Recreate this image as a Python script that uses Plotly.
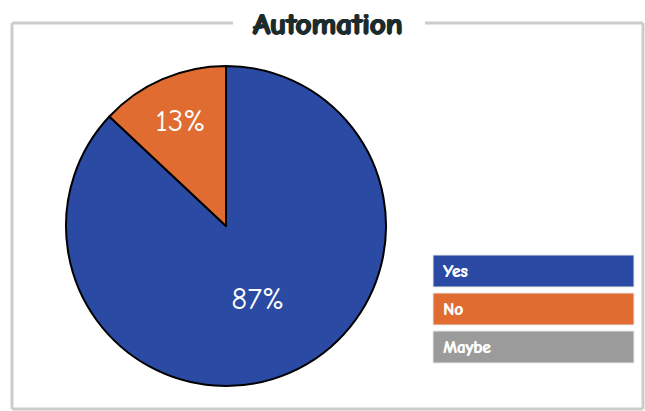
import plotly.graph_objects as go

categories = ["Yes", "No", "Maybe"]
values = [87, 13, 0]
colors = ["#2a4aa3", "#e06c32", "#9b9b9b"]
title_text = "Automation"

W, H = 645, 411
FONT = "Comic Sans MS, Comic Neue, Lato, sans-serif"

def px(x):
    return x / W

def py(y):
    return 1 - y / H

fig = go.Figure()
fig.add_trace(go.Pie(
    labels=categories,
    values=values,
    marker=dict(colors=colors, line=dict(color="#000000", width=2)),
    direction="clockwise",
    rotation=0,
    sort=False,
    textinfo="percent",
    texttemplate="%{percent:.0%}",
    textposition="inside",
    insidetextorientation="horizontal",
    textfont=dict(color="white", size=31, family=FONT),
    domain=dict(x=[px(66), px(386)], y=[py(386), py(66)]),
    showlegend=False,
    hoverinfo="label+percent",
))

shapes = []
line_style = dict(color="#cccccc", width=3)
# frame with gap for the title
for (x0, y0, x1, y1) in [(12, 23, 233, 23), (425, 23, 643, 23), (643, 23, 643, 409),
                         (643, 409, 12, 409), (12, 409, 12, 23)]:
    shapes.append(dict(type="line", xref="paper", yref="paper",
                       x0=px(x0), y0=py(y0), x1=px(x1), y1=py(y1), line=line_style))

title_color = "#1c2b2b"
annotations = [dict(text="<b>" + title_text + "</b>", xref="paper", yref="paper",
                    x=px(328), y=py(24), xanchor="center", yanchor="middle",
                    showarrow=False,
                    font=dict(size=31, color=title_color, family=FONT,
                              shadow="1px 0px 0px %s, -1px 0px 0px %s, 0px 1px 0px %s" % (title_color, title_color, title_color)))]

# legend boxes
for i, (cat, col) in enumerate(zip(categories, colors)):
    top = 255 + i * 38
    bot = top + 32
    shapes.append(dict(type="rect", xref="paper", yref="paper",
                       x0=px(433), x1=px(634), y0=py(bot), y1=py(top),
                       fillcolor=col, line=dict(color="#e8e8e8", width=1)))
    annotations.append(dict(text="<b>" + cat + "</b>", xref="paper", yref="paper",
                            x=px(441), y=py((top + bot) / 2), xanchor="left", yanchor="middle",
                            showarrow=False,
                            font=dict(size=17, color="white", family=FONT,
                                      shadow="0.6px 0px 0px white")))

fig.update_layout(
    width=W, height=H,
    margin=dict(l=0, r=0, t=0, b=0),
    paper_bgcolor="white", plot_bgcolor="white",
    shapes=shapes, annotations=annotations,
)

fig.write_html("out.html", config={"displayModeBar": False},
               post_script="document.body.style.margin='0';document.body.style.overflow='hidden';")
